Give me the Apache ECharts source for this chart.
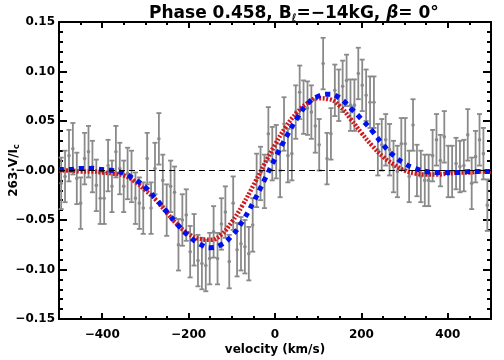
<!DOCTYPE html>
<html>
<head>
<meta charset="utf-8">
<script src="https://cdn.jsdelivr.net/npm/echarts@6/dist/echarts.min.js"></script>
<style>
html, body { margin: 0; padding: 0; background: #fff; }
#chart { width: 504px; height: 360px; }
</style>
</head>
<body>
<div id="chart"></div>
<script>
// observed profile: velocity (km/s), V/Ic value, 1-sigma error
var velocity = [
  -495.0, -486.0, -476.9, -467.9, -458.8, -449.8, -440.7, -431.7, -422.6, -413.6,
  -404.5, -395.5, -386.4, -377.4, -368.3, -359.3, -350.2, -341.2, -332.1, -323.1,
  -314.0, -305.0, -295.9, -286.9, -277.8, -268.8, -259.7, -250.7, -241.6, -232.6,
  -223.5, -214.5, -205.4, -196.4, -187.3, -178.3, -169.2, -160.2, -151.1, -142.1,
  -133.0, -124.0, -114.9, -105.9, -96.8, -87.8, -78.7, -69.7, -60.6, -51.6,
  -42.5, -33.5, -24.4, -15.4, -6.3, 2.8, 11.8, 20.9, 29.9, 39.0,
  48.0, 57.1, 66.1, 75.2, 84.2, 93.3, 102.3, 111.4, 120.4, 129.5,
  138.5, 147.6, 156.6, 165.7, 174.7, 183.8, 192.8, 201.9, 210.9, 220.0,
  229.0, 238.1, 247.1, 256.2, 265.2, 274.3, 283.3, 292.4, 301.4, 310.5,
  319.5, 328.6, 337.6, 346.7, 355.7, 364.8, 373.8, 382.9, 391.9, 401.0,
  410.0, 419.1, 428.1, 437.2, 446.2, 455.3, 464.3, 473.4, 482.4, 491.5
];
var stokesV = [
  -0.013, -0.006, 0.015, 0.022, -0.008, -0.033, 0.012, 0.019, 0.004, -0.015,
  -0.028, -0.028, 0.005, -0.016, 0.019, 0.002, -0.016, -0.003, -0.006, -0.028,
  -0.033, -0.038, 0.012, -0.038, 0.002, 0.032, -0.010, -0.040, -0.016, -0.022,
  -0.075, -0.050, -0.045, -0.082, -0.070, -0.091, -0.094, -0.096, -0.089, -0.062,
  -0.089, -0.054, -0.042, -0.092, -0.033, -0.080, -0.074, -0.077, -0.084, -0.055,
  -0.010, -0.003, -0.011, 0.037, 0.017, 0.019, 0.000, 0.047, 0.015, 0.017,
  0.059, 0.079, 0.064, 0.063, 0.059, 0.045, 0.026, 0.108, 0.012, 0.037,
  0.081, 0.076, 0.085, 0.091, 0.066, 0.066, 0.098, 0.086, 0.076, 0.069,
  0.069, 0.021, 0.026, 0.031, 0.021, 0.004, -0.001, 0.027, 0.027, -0.006,
  0.046, 0.000, -0.006, -0.010, -0.010, 0.015, 0.031, 0.010, 0.034, -0.001,
  -0.001, 0.007, 0.004, 0.005, 0.036, -0.013, 0.014, 0.031, 0.017, -0.035
];
var stokesErr = [
  0.026, 0.026, 0.026, 0.026, 0.026, 0.026, 0.026, 0.026, 0.026, 0.026,
  0.026, 0.026, 0.026, 0.026, 0.026, 0.026, 0.026, 0.026, 0.026, 0.026,
  0.026, 0.026, 0.026, 0.026, 0.026, 0.026, 0.026, 0.026, 0.026, 0.026,
  0.026, 0.026, 0.026, 0.026, 0.026, 0.026, 0.026, 0.026, 0.026, 0.026,
  0.026, 0.026, 0.026, 0.027, 0.027, 0.027, 0.027, 0.027, 0.027, 0.027,
  0.027, 0.027, 0.027, 0.027, 0.027, 0.027, 0.027, 0.027, 0.027, 0.027,
  0.027, 0.027, 0.027, 0.027, 0.027, 0.027, 0.026, 0.026, 0.026, 0.026,
  0.026, 0.026, 0.026, 0.026, 0.026, 0.026, 0.026, 0.026, 0.026, 0.026,
  0.026, 0.026, 0.026, 0.026, 0.026, 0.026, 0.026, 0.026, 0.026, 0.026,
  0.026, 0.026, 0.026, 0.026, 0.026, 0.026, 0.026, 0.026, 0.026, 0.026,
  0.026, 0.026, 0.026, 0.026, 0.026, 0.026, 0.026, 0.026, 0.026, 0.026
];

// model profiles
var modelVelocity = [
  -500, -475, -450, -425, -400, -375, -350, -325, -300, -275, -250, -225, -200, -175,
  -150, -125, -100, -75, -50, -25, 0, 25, 50, 75, 100, 125, 150, 175, 200, 225,
  250, 275, 300, 325, 350, 375, 400, 425, 450, 475, 500
];
var modelBlue = [
  0.001, 0.001, 0.002, 0.002, 0.001, 0.000, -0.003, -0.009, -0.017, -0.029, -0.042, -0.055, -0.066, -0.074,
  -0.078, -0.075, -0.066, -0.051, -0.032, -0.010, 0.012, 0.033, 0.052, 0.067, 0.075, 0.077, 0.073, 0.063, 0.052, 0.040,
  0.026, 0.015, 0.007, 0.002, -0.001, -0.002, -0.002, -0.002, -0.001, -0.001, -0.001
];
var modelRed = [
  0.000, 0.000, -0.001, -0.001, -0.002, -0.003, -0.005, -0.011, -0.020, -0.030, -0.043, -0.055, -0.064, -0.069,
  -0.070, -0.065, -0.052, -0.035, -0.015, 0.006, 0.026, 0.044, 0.058, 0.068, 0.073, 0.072, 0.065, 0.052, 0.038, 0.025,
  0.014, 0.006, 0.000, -0.003, -0.004, -0.004, -0.003, -0.002, -0.002, -0.001, -0.001
];

var xMajorTicks = [-400, -200, 0, 200, 400];

var FONT = 'DejaVu Sans';
var chart = echarts.init(document.getElementById('chart'));

var obsData = velocity.map(function (v, i) { return [v, stokesV[i], stokesErr[i]]; });
var blueData = modelVelocity.map(function (v, i) { return [v, modelBlue[i]]; });
var redData = modelVelocity.map(function (v, i) { return [v, modelRed[i]]; });

function renderErrorBar(params, api) {
  var x = api.value(0), y = api.value(1), e = api.value(2);
  var top = api.coord([x, y + e]);
  var bot = api.coord([x, y - e]);
  var mid = api.coord([x, y]);
  var cap = 2.5;
  var st = { stroke: '#8a8a8a', lineWidth: 1.8 };
  return {
    type: 'group',
    children: [
      { type: 'line', shape: { x1: top[0], y1: top[1], x2: bot[0], y2: bot[1] }, style: st },
      { type: 'line', shape: { x1: top[0] - cap, y1: top[1], x2: top[0] + cap, y2: top[1] }, style: st },
      { type: 'line', shape: { x1: bot[0] - cap, y1: bot[1], x2: bot[0] + cap, y2: bot[1] }, style: st },
      { type: 'circle', shape: { cx: mid[0], cy: mid[1], r: 1.8 }, style: { fill: '#8a8a8a' } }
    ]
  };
}

var black = { color: '#000', width: 2 };
function xMinor(pos) {
  return {
    type: 'value', position: pos, min: -500, max: 500, interval: 50,
    axisLine: { show: true, onZero: false, lineStyle: black },
    axisTick: { inside: true, length: 3, lineStyle: black },
    axisLabel: { show: false }, splitLine: { show: false }
  };
}
function xMajor(pos, labels) {
  return {
    type: 'value', position: pos, min: -500, max: 500,
    axisLine: { show: false, onZero: false },
    axisTick: { inside: true, length: 6, customValues: xMajorTicks, lineStyle: black },
    axisLabel: {
      show: labels, customValues: xMajorTicks, margin: 10,
      fontFamily: FONT, fontWeight: 'bold', fontSize: 12, color: '#000',
      formatter: function (v) { return v < 0 ? '−' + Math.abs(v) : String(v); }
    },
    splitLine: { show: false }
  };
}
function yAxisDef(pos, labels) {
  var ax = {
    type: 'value', position: pos, min: -0.15, max: 0.15, interval: 0.05,
    axisLine: { show: true, onZero: false, lineStyle: black },
    axisTick: { inside: true, length: 8, lineStyle: black },
    minorTick: { show: true, splitNumber: 5, length: 4, lineStyle: black },
    axisLabel: {
      show: labels, margin: 4,
      fontFamily: FONT, fontWeight: 'bold', fontSize: 12, color: '#000',
      formatter: function (v) { return (v < 0.001 ? '−' : '') + Math.abs(v).toFixed(2); }
    },
    splitLine: { show: false }
  };
  if (labels) {
    ax.name = '{n|263·V/I}{s|c}';
    ax.nameLocation = 'middle';
    ax.nameGap = 38;
    ax.nameMoveOverlap = false;
    ax.nameTextStyle = {
      rich: {
        n: { fontFamily: FONT, fontWeight: 'bold', fontSize: 12, color: '#000', lineHeight: 14 },
        s: { fontFamily: FONT, fontWeight: 'bold', fontSize: 8, color: '#000', lineHeight: 8, verticalAlign: 'bottom' }
      }
    };
  }
  return ax;
}

var xBottomMajor = xMajor('bottom', true);
xBottomMajor.name = 'velocity (km/s)';
xBottomMajor.nameLocation = 'middle';
xBottomMajor.nameGap = 25;
xBottomMajor.nameMoveOverlap = false;
xBottomMajor.nameTextStyle = { fontFamily: FONT, fontWeight: 'bold', fontSize: 12, color: '#000' };

var option = {
  animation: false,
  backgroundColor: '#fff',
  title: {
    text: '{n|Phase 0.458, B}{s|ℓ}{n|=−14kG, }{g|β}{n|= 0°}',
    left: 144, top: 0,
    textStyle: {
      rich: {
        n: { fontFamily: FONT, fontWeight: 'bold', fontSize: 17, color: '#000', lineHeight: 18 },
        s: { fontFamily: FONT, fontWeight: 'bold', fontSize: 10, color: '#000', lineHeight: 9, verticalAlign: 'bottom' },
        g: { fontFamily: FONT, fontWeight: 'bold', fontStyle: 'italic', fontSize: 17, color: '#000', lineHeight: 18 }
      }
    }
  },
  grid: { left: 59, right: 13, top: 22, bottom: 41, outerBoundsMode: 'none' },
  xAxis: [xMinor('bottom'), xBottomMajor, xMinor('top'), xMajor('top', false)],
  yAxis: [yAxisDef('left', true), yAxisDef('right', false)],
  series: [
    {
      type: 'custom', xAxisIndex: 0, yAxisIndex: 0, z: 2,
      renderItem: renderErrorBar,
      data: obsData
    },
    {
      type: 'line', xAxisIndex: 0, yAxisIndex: 0, z: 3,
      data: redData, smooth: true, showSymbol: false,
      lineStyle: { color: '#d0181c', width: 4.5, type: [2, 1.6] },
      markLine: {
        silent: true, symbol: ['none', 'none'], label: { show: false },
        lineStyle: { color: '#000', width: 1, type: [6, 4] },
        data: [{ yAxis: 0 }]
      }
    },
    {
      type: 'line', xAxisIndex: 0, yAxisIndex: 0, z: 4,
      data: blueData, smooth: true, showSymbol: false,
      lineStyle: { color: '#0010f0', width: 5, type: [5, 5] }
    }
  ]
};

chart.setOption(option);
</script>
</body>
</html>
